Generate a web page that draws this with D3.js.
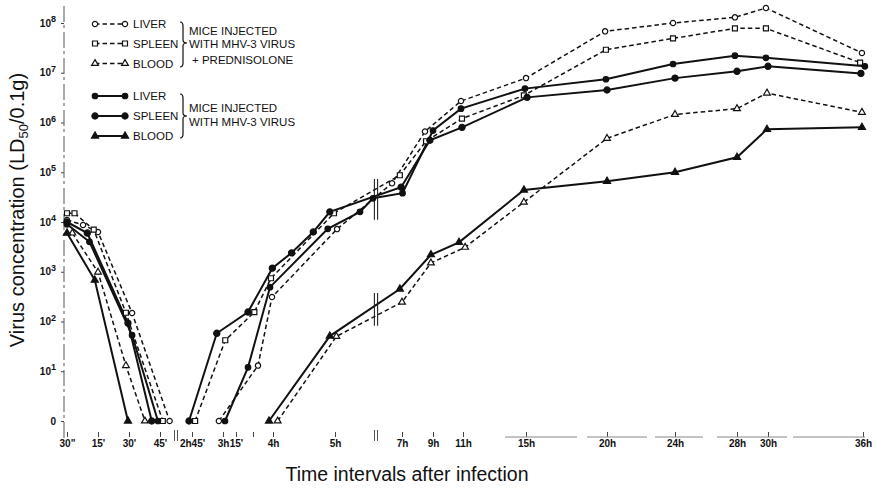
<!DOCTYPE html>
<html>
<head>
<meta charset="utf-8">
<script src="https://cdn.jsdelivr.net/npm/d3@7"></script>
<style>
body{ margin:0; background:#fff; }
text{ font-family:"Liberation Sans", Arial, Helvetica, sans-serif; fill:#111; }
</style>
</head>
<body>
<svg id="chart" width="876" height="490"></svg>
<script>
// [minutes after infection, LD50/0.1g]; 0 = nothing found, null splits the two phases
var liverPred  = [[0.5,1.1e4],[8,8700],[15,6300],[31.5,148],[49.8,0],null,[178,0],[217.5,13],[238.5,310],[303,7200],[397,6.0e4],[509,6.6e5],[652,2.7e6],[900,7.8e6],[1193,6.8e7],[1433,1.0e8],[1672,1.3e8],[1792,2.0e8],[2156,2.5e7]];
var spleenPred = [[0.5,1.5e4],[4,1.5e4],[13,7000],[28.5,150],[46.4,0],null,[166.5,0],[182.6,42],[212,155],[237,740],[299,1.5e4],[415,8.7e4],[513,4.2e5],[656,1.2e6],[892,3.5e6],[1196,2.9e7],[1433,4.9e7],[1672,7.8e7],[1792,7.8e7],[2149,1.6e7]];
var bloodPred  = [[3,6000],[15,980],[28.5,13],[37.7,0],null,[244.5,0],[302,50],[420,245],[532,1500],[668,3100],[892,2.5e4],[1200,4.8e5],[1440,1.45e6],[1680,1.9e6],[1796,3.9e6],[2156,1.6e6]];
var liver      = [[0.5,9000],[11,4000],[31.5,53],[44,0],null,[182.3,0],[205.6,12],[235.5,490],[293,7300],[336.6,1.6e4],[355.6,3.0e4],[422,3.8e4],[540,6.9e5],[652,1.9e6],[896,4.8e6],[1196,7.4e6],[1433,1.5e7],[1672,2.2e7],[1792,2.0e7],[2167,1.35e7]];
var spleen     = [[0.5,1.0e4],[10,6000],[29.5,93],[41,0],null,[163.5,0],[177,58],[205.6,155],[239,1180],[258,2400],[279,6300],[295,1.6e4],[418,5.0e4],[528,4.4e5],[656,8.0e5],[904,3.2e6],[1200,4.5e6],[1440,7.8e6],[1680,1.07e7],[1800,1.35e7],[2152,9.7e6]];
var blood      = [[0.5,6000],[13.5,680],[29.5,0],null,[234,0],[295,51],[415,450],[532,2200],[644,3900],[892,4.4e4],[1200,6.6e4],[1440,1.0e5],[1680,2.0e5],[1796,7.3e5],[2156,8.0e5]];

var organs = ['LIVER','SPLEEN','BLOOD'];
var groupText1 = ['MICE INJECTED','WITH MHV-3 VIRUS','+ PREDNISOLONE'];
var groupText2 = ['MICE INJECTED','WITH MHV-3 VIRUS'];

var xTickTimes  = [0.5,15,30,45,165,180,195,240,300,420,540,660,900,1200,1440,1680,1800,2160];
var xTickLabels = ['30"',"15'","30'","45'","2h45'","3h","15'","4h","5h","7h","9h","11h","15h","20h","24h","28h","30h","36h"];
var yTickValues = [1,10,100,1e3,1e4,1e5,1e6,1e7,1e8];

// the time axis is stretched by hand in the original, so it is piecewise
var xKnots  = [0.5,15,30,45,52,158,165,180,195,210,240,300,360,420,540,660,900,1200,1440,1680,1800,2160];
var xPixels = [67,98,129,160,174,178,192,223,236,253,273,335,376,402,433,463,526,607,675,737,768,863];

var svg = d3.select('#chart');

var x = d3.scaleLinear().domain(xKnots).range(xPixels);
var y = d3.scaleLog().domain([1, 1e8]).range([421, 23]);
function yv( v ){ return y( v > 0 ? v : 1 ); }

var series = [
    { data: liverPred,  dashed: true,  shape: d3.symbolCircle,   fill: false, size: 22 },
    { data: spleenPred, dashed: true,  shape: d3.symbolSquare,   fill: false, size: 25 },
    { data: bloodPred,  dashed: true,  shape: d3.symbolTriangle, fill: false, size: 20 },
    { data: liver,      dashed: false, shape: d3.symbolCircle,   fill: true,  size: 24 },
    { data: spleen,     dashed: false, shape: d3.symbolCircle,   fill: true,  size: 30 },
    { data: blood,      dashed: false, shape: d3.symbolTriangle, fill: true,  size: 22 }
];

var line = d3.line()
    .defined(function( d ){ return d !== null; })
    .x(function( d ){ return x( d[0] ); })
    .y(function( d ){ return yv( d[1] ); });

function styleLine( sel ){
    sel.attr( 'fill', 'none' )
        .attr( 'stroke', '#111' )
        .attr( 'stroke-width', function( d ){ return d.dashed ? 1.5 : 2; } )
        .attr( 'stroke-dasharray', function( d ){ return d.dashed ? '4.5,3' : null; } );
}

function styleMarker( sel, s ){
    sel.attr( 'd', d3.symbol().type( s.shape ).size( s.size ) )
        .attr( 'fill', s.fill ? '#111' : '#fff' )
        .attr( 'stroke', '#111' )
        .attr( 'stroke-width', 1.2 );
}

// axes
var yAxis = d3.axisLeft( y ).tickValues( yTickValues ).tickSize( 3 ).tickPadding( 5 ).tickFormat( '' );
var gy = svg.append( 'g' )
    .attr( 'transform', 'translate(64,0)' )
    .attr( 'font-size', 13 )
    .attr( 'font-weight', 'bold' )
    .call( yAxis );
gy.select( '.domain' ).remove();
gy.selectAll( '.tick line' ).attr( 'stroke', '#444' );
gy.selectAll( '.tick text' ).each(function( d ){
    var t = d3.select( this ).attr( 'fill', '#111' ).style( 'font-family', '"Liberation Sans", Arial, sans-serif' );
    if ( d === 1 ){
        t.text( '0' );
    }else{
        t.append( 'tspan' ).text( '10' );
        t.append( 'tspan' ).attr( 'dy', '-0.5em' ).attr( 'font-size', 9 ).text( Math.round( Math.log10( d ) ) );
    }
});
svg.append( 'line' )
    .attr( 'x1', 64 ).attr( 'x2', 64 )
    .attr( 'y1', 6 ).attr( 'y2', 440 )
    .attr( 'stroke', '#555' )
    .attr( 'stroke-dasharray', '16,3,3,4' );

var xAxis = d3.axisBottom( x ).tickValues( xTickTimes ).tickSize( 5 ).tickPadding( 3 )
    .tickFormat(function( d, i ){ return xTickLabels[i]; });
var gx = svg.append( 'g' )
    .attr( 'transform', 'translate(0,432)' )
    .attr( 'font-size', 12 )
    .attr( 'font-weight', 'bold' )
    .call( xAxis );
gx.select( '.domain' ).remove();
gx.selectAll( '.tick line' ).attr( 'stroke', '#444' );
gx.selectAll( '.tick text' ).attr( 'fill', '#111' ).style( 'font-family', '"Liberation Sans", Arial, sans-serif' );

// unlabeled 3h30' tick
svg.append( 'g' ).attr( 'transform', 'translate(0,432)' )
    .call( d3.axisBottom( x ).tickValues( [210] ).tickSize( 5 ).tickFormat( '' ) )
    .call(function( g ){ g.select( '.domain' ).remove(); g.selectAll( 'line' ).attr( 'stroke', '#444' ); });

// faint baseline, only the late part survives in the print
svg.append( 'line' )
    .attr( 'x1', x( 820 ) ).attr( 'x2', x( 2160 ) + 8 )
    .attr( 'y1', 437 ).attr( 'y2', 437 )
    .attr( 'stroke', '#888' )
    .attr( 'stroke-dasharray', '72,10,60,8,48,14,70,6' );

// axis breaks
[ ( x( 52 ) + x( 158 ) ) / 2, x( 360 ) ].forEach(function( bx ){
    [-1.5, 1.5].forEach(function( off ){
        svg.append( 'line' )
            .attr( 'x1', bx + off ).attr( 'x2', bx + off )
            .attr( 'y1', 430 ).attr( 'y2', 441 )
            .attr( 'stroke', '#555' );
    });
});

// curves
svg.append( 'g' ).selectAll( 'path' )
    .data( series )
    .join( 'path' )
    .attr( 'd', function( d ){ return line( d.data ); } )
    .call( styleLine );

// break marks drawn across the curves at 6h
function yAt( data, t ){
    var pts = data.filter(function( d ){ return d !== null; });
    for ( var i = 1; i < pts.length; i++ ){
        if ( pts[i-1][0] <= t && pts[i][0] >= t ){
            var x0 = x( pts[i-1][0] ), x1 = x( pts[i][0] ), f = ( x( t ) - x0 ) / ( x1 - x0 );
            return yv( pts[i-1][1] ) + f * ( yv( pts[i][1] ) - yv( pts[i-1][1] ) );
        }
    }
    return null;
}
[ { lines: [liverPred, spleenPred, liver, spleen], above: 10, below: 22 },
  { lines: [bloodPred, blood], above: 12, below: 10 } ].forEach(function( bundle ){
    var ys = bundle.lines.map(function( d ){ return yAt( d, 360 ); } ),
        top = d3.min( ys ) - bundle.above,
        bottom = d3.max( ys ) + bundle.below;
    [-1.6, 1.6].forEach(function( off ){
        svg.append( 'line' )
            .attr( 'x1', x( 360 ) + off ).attr( 'x2', x( 360 ) + off )
            .attr( 'y1', top ).attr( 'y2', bottom )
            .attr( 'stroke', '#222' )
            .attr( 'stroke-width', 1.1 );
    });
});

// markers
series.forEach(function( s ){
    svg.append( 'g' ).selectAll( 'path' )
        .data( s.data.filter(function( d ){ return d !== null; }) )
        .join( 'path' )
        .attr( 'transform', function( d ){ return 'translate(' + x( d[0] ) + ',' + yv( d[1] ) + ')'; } )
        .call( styleMarker, s );
});

// legend
var legendRows = [24, 43.5, 63.5, 96, 116, 136];
series.forEach(function( s, i ){
    var ly = legendRows[i],
        g = svg.append( 'g' );
    g.append( 'path' )
        .datum( s )
        .attr( 'd', 'M95,' + ly + 'H125' )
        .call( styleLine );
    [95, 125].forEach(function( lx ){
        g.append( 'path' )
            .attr( 'transform', 'translate(' + lx + ',' + ly + ')' )
            .call( styleMarker, s );
    });
    g.append( 'text' )
        .attr( 'x', 133 ).attr( 'y', ly + 4.2 )
        .attr( 'font-size', 11.5 )
        .text( organs[i % 3] );
});

function brace( bx, y0, y1, tip ){
    var p = d3.path();
    p.moveTo( bx, y0 );
    p.quadraticCurveTo( bx + 3, y0, bx + 3, y0 + 4 );
    p.lineTo( bx + 3, tip - 3 );
    p.quadraticCurveTo( bx + 3, tip, bx + 7, tip );
    p.quadraticCurveTo( bx + 3, tip, bx + 3, tip + 3 );
    p.lineTo( bx + 3, y1 - 4 );
    p.quadraticCurveTo( bx + 3, y1, bx, y1 );
    svg.append( 'path' ).attr( 'd', p.toString() )
        .attr( 'fill', 'none' ).attr( 'stroke', '#111' ).attr( 'stroke-width', 1.2 );
}
brace( 180, 22, 67, 43 );
brace( 180, 94, 138, 116 );

[34.5, 48, 64].forEach(function( ty, i ){
    svg.append( 'text' ).attr( 'x', i === 2 ? 192 : 189 ).attr( 'y', ty )
        .attr( 'font-size', 11.5 ).text( groupText1[i] );
});
[111.5, 126].forEach(function( ty, i ){
    svg.append( 'text' ).attr( 'x', 189 ).attr( 'y', ty )
        .attr( 'font-size', 11.5 ).text( groupText2[i] );
});

// titles
var yt = svg.append( 'text' )
    .attr( 'transform', 'translate(24,210) rotate(-90)' )
    .attr( 'text-anchor', 'middle' )
    .attr( 'font-size', 20 );
yt.append( 'tspan' ).text( 'Virus concentration (LD' );
yt.append( 'tspan' ).attr( 'dy', '0.28em' ).attr( 'font-size', 13 ).text( '50' );
yt.append( 'tspan' ).attr( 'dy', '-0.18em' ).text( '/0.1g)' );

svg.append( 'text' )
    .attr( 'x', 407 ).attr( 'y', 481 )
    .attr( 'text-anchor', 'middle' )
    .attr( 'font-size', 19.5 )
    .text( 'Time intervals after infection' );
</script>
</body>
</html>
